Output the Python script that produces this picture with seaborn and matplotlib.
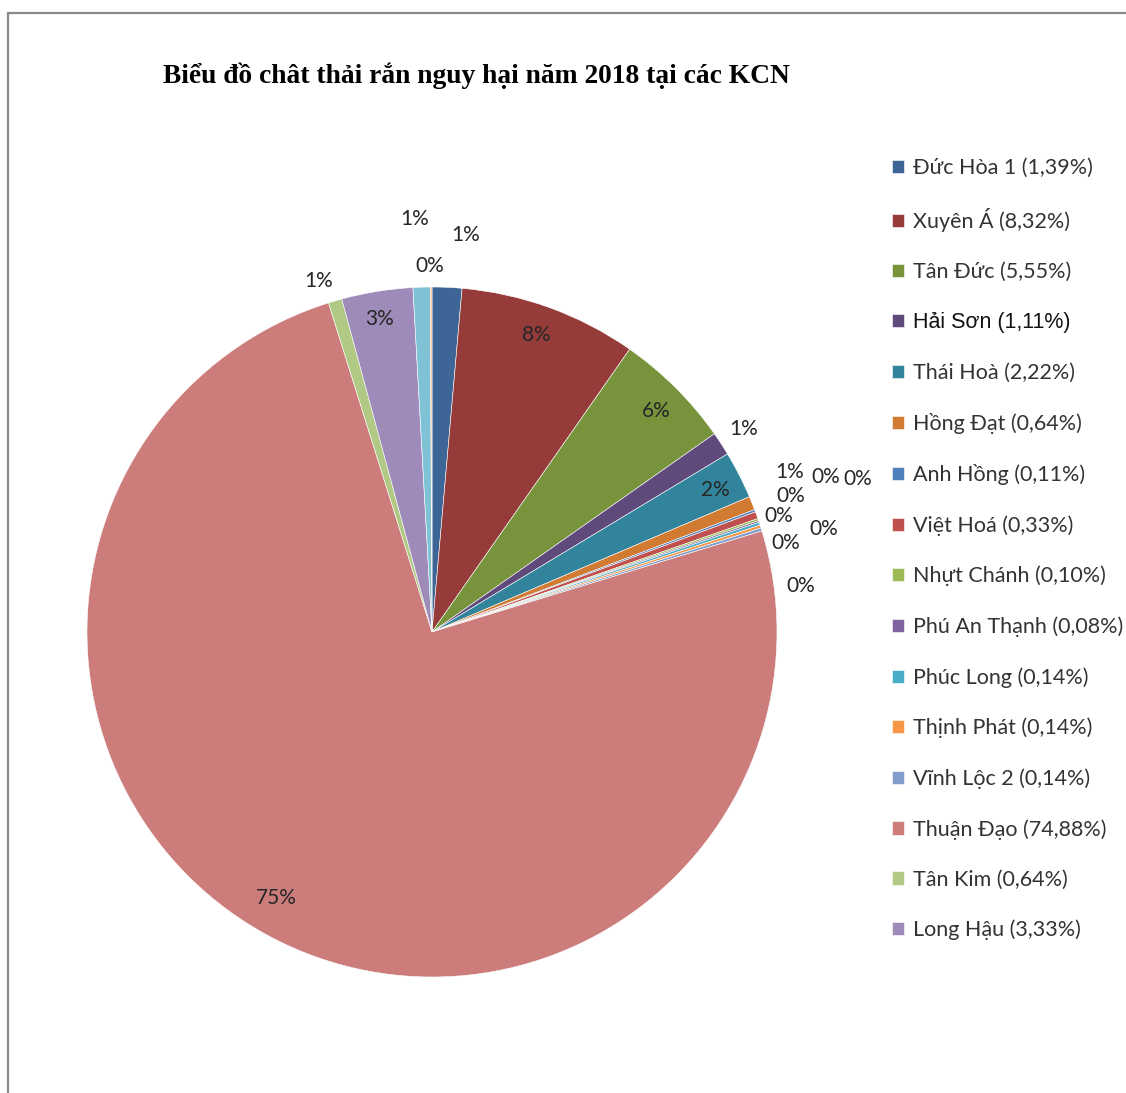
import numpy as np
import matplotlib
matplotlib.use("Agg")
import matplotlib.pyplot as plt
from matplotlib.lines import Line2D
import seaborn as sns

# Hazardous solid waste share (%) by industrial park, 2018
kcn_names = [
    "Đức Hòa 1", "Xuyên Á", "Tân Đức", "Hải Sơn", "Thái Hoà", "Hồng Đạt",
    "Anh Hồng", "Việt Hoá", "Nhựt Chánh", "Phú An Thạnh", "Phúc Long",
    "Thịnh Phát", "Vĩnh Lộc 2", "Thuận Đạo", "Tân Kim", "Long Hậu",
]
shares = [1.39, 8.32, 5.55, 1.11, 2.22, 0.64, 0.11, 0.33, 0.10, 0.08,
          0.14, 0.14, 0.14, 74.88, 0.64, 3.33]
# two further slices that have no legend entry
unlisted_shares = [0.80, 0.08]

title = "Biểu đồ chât thải rắn nguy hại năm 2018 tại các KCN"

slice_colors = [
    "#3D6697", "#953B39", "#77933C", "#604A7B", "#31849B", "#D07A32",
    "#4F81BD", "#C0504D", "#9BBB59", "#8064A2", "#4BACC6", "#F79646",
    "#7F9CCB", "#CB7C7B", "#B0C985", "#9E8BB9", "#7FC2D6", "#F9B47F",
]

# label placement: radius (in pie radii) and angular nudge (degrees, clockwise)
label_radius = [1.155, 0.913, 0.913, 1.078, 0.919, 1.136,
                1.227, 1.312, 1.113, 1.061, 1.174, 1.058, 1.078,
                0.893, 1.07, 0.92, 1.197, 1.06]
label_nudge = [2.4, -0.6, 0.5, -0.1, 0.4, -2.2,
               -0.9, 0.0, -1.7, 0.2, 3.6, 3.6, 10.2,
               2.7, -1.6, -0.4, -0.7, -0.2]

sns.set_theme(style="white")
plt.rcParams["font.family"] = ["Lato", "DejaVu Sans"]

values = shares + unlisted_shares
palette = sns.color_palette(slice_colors, n_colors=len(values))

W, H = 1126, 1093
fig = plt.figure(figsize=(W / 100, H / 100), dpi=100)
fig.patch.set_facecolor("white")

cx, cy, r = 432, 632, 345
ax = fig.add_axes([(cx - r) / W, (H - cy - r) / H, 2 * r / W, 2 * r / H])
wedges, _ = ax.pie(values, colors=palette, startangle=90, counterclock=False,
                   radius=1.0, wedgeprops=dict(edgecolor="white", linewidth=0.4))
ax.set_xlim(-1, 1)
ax.set_ylim(-1, 1)
ax.set_aspect("equal")
ax.axis("off")

total = float(sum(values))
cum = 0.0
for i, v in enumerate(values):
    mid = (cum + v / 2) / total * 360.0
    cum += v
    theta = np.deg2rad(mid + label_nudge[i])
    rr = label_radius[i]
    pct = 100.0 * v / total
    ax.text(rr * np.sin(theta), rr * np.cos(theta), f"{round(pct):.0f}%",
            ha="center", va="center", fontsize=15, color="#262626",
            clip_on=False)

leg = fig.legend(wedges[:len(kcn_names)],
                 [f"{n} ({s:.2f}%)".replace(".", ",") for n, s in zip(kcn_names, shares)],
                 loc="upper left", bbox_to_anchor=(892 / W, 1 - 158 / H),
                 frameon=False, fontsize=15.5, labelspacing=1.395,
                 handlelength=0.56, handleheight=0.56, handletextpad=0.42,
                 borderpad=0, borderaxespad=0)
for t in leg.get_texts():
    t.set_color("#333333")
hs = leg.get_texts()[3]
hs.set_fontfamily(["Liberation Sans", "DejaVu Sans"])
hs.set_color("#111111")

fig.text(163 / W, 1 - 76 / H, title, ha="left", va="center",
         fontsize=19.8, fontweight="bold", family=["Liberation Serif", "DejaVu Serif"],
         color="black")

# chart-area border (top and left edges)
fig.add_artist(Line2D([8 / W, 1.0], [1 - 13 / H, 1 - 13 / H], color="#8a8a8a", lw=1.6))
fig.add_artist(Line2D([8 / W, 8 / W], [1 - 13 / H, 0.0], color="#8a8a8a", lw=1.6))

fig.savefig("out.png", dpi=100, facecolor="white")
